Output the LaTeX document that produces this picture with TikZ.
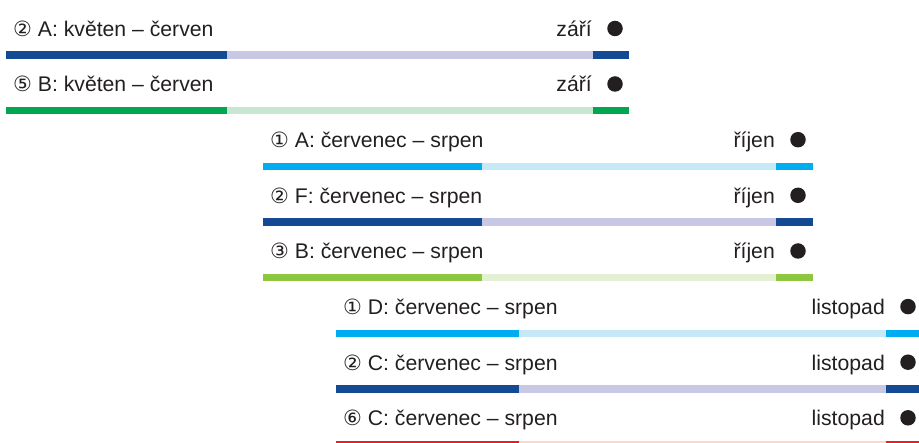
\documentclass[tikz,border=0pt]{standalone}
\usepackage{fontspec}
\setmainfont{Liberation Sans}
\newfontfamily\circfont{DejaVu Sans}
\definecolor{txt}{HTML}{231F20}
\definecolor{navyD}{HTML}{134A93}
\definecolor{navyL}{HTML}{C8C8E4}
\definecolor{greenD}{HTML}{00A650}
\definecolor{greenL}{HTML}{C9E6D3}
\definecolor{cyanD}{HTML}{00AEEF}
\definecolor{cyanL}{HTML}{C6E9F8}
\definecolor{limeD}{HTML}{8DC63F}
\definecolor{limeL}{HTML}{E3F0D4}
\definecolor{redD}{HTML}{ED1C24}
\definecolor{redL}{HTML}{FAD7C8}
\newcommand\cn[1]{{\fontsize{21}{25}\circfont #1}}
% #1 id, #2 top, #3 x0, #4 xd, #5 xs, #6 x1, #7 colour prefix, #8 label, #9 end label
\newcommand\tlrow[9]{%
  \fill[#7D] (#3,#2) rectangle (#4,#2+7.5);
  \fill[#7L] (#4,#2) rectangle (#5,#2+7.5);
  \fill[#7D] (#5,#2) rectangle (#6,#2+7.5);
  \node[lbl,anchor=base west] (l#1) at (#3+7,#2-15) {#8};
  \node[lbl,anchor=base east] (e#1) at (#5-1,#2-15) {#9};
  \node[dotmark] (d#1) at (#5+22,#2-23) {};
}
\tikzset{
  lbl/.style={inner sep=0pt,text=txt,font=\fontsize{21.2}{25}\selectfont},
  dotmark/.style={circle,fill=txt,minimum size=15.5pt,inner sep=0pt}
}
\begin{document}
\begin{tikzpicture}[x=1pt,y=-1pt]
\useasboundingbox (0,0) rectangle (919,443);
\clip (0,0) rectangle (919,443);
\tlrow{1}{51.5}{6}{226.5}{593}{629}{navy}{\cn{②} A: květen – červen}{září}
\tlrow{2}{107}{6}{226.5}{593}{629}{green}{\cn{⑤} B: květen – červen}{září}
\tlrow{3}{162.7}{263}{482}{776}{812.5}{cyan}{\cn{①} A: červenec – srpen}{říjen}
\tlrow{4}{218.3}{263}{482}{776}{812.5}{navy}{\cn{②} F: červenec – srpen}{říjen}
\tlrow{5}{274}{263}{482}{776}{812.5}{lime}{\cn{③} B: červenec – srpen}{říjen}
\tlrow{6}{329.6}{336}{519}{886}{921}{cyan}{\cn{①} D: červenec – srpen}{listopad}
\tlrow{7}{385.2}{336}{519}{886}{921}{navy}{\cn{②} C: červenec – srpen}{listopad}
\tlrow{8}{440.8}{336}{519}{886}{921}{red}{\cn{⑥} C: červenec – srpen}{listopad}
\end{tikzpicture}
\end{document}
